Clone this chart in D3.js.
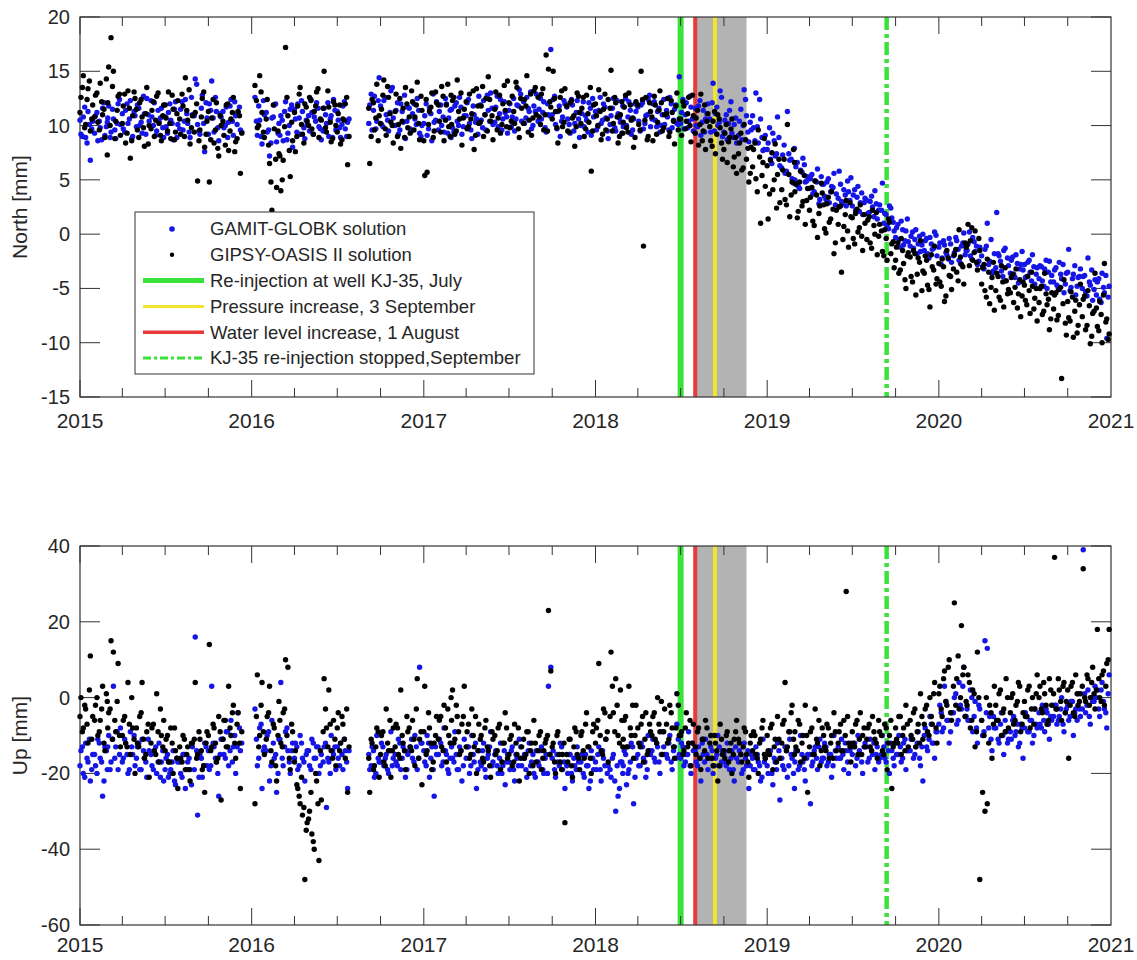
<!DOCTYPE html>
<meta charset="utf-8">
<script src="https://d3js.org/d3.v7.min.js"></script>
<style>
  body { margin: 0; background: #fff; }
  text { font-family: "Liberation Sans", Arial, sans-serif; fill: #262626; }
</style>
<div id="chart"></div>

<script>
// readings per month, Jan 2015 .. Dec 2020
// set A on days 3, 8, 13, 18, 23, 28 ; set B on days 1, 6, 11, 16, 21, 26
var northGamit = [
  // 2015
  [9.2, 10.8, 8.9, 11.3, 6.8, 10.4], [10.9, 8.6, 9.8, 11.6, 9.1, 10.3], [11.8, 9.4, 10.6, 8.8, 12.0, 10.1],
  [9.7, 11.4, 10.2, 12.3, 9.0, 10.9], [11.9, 10.0, 9.3, 11.1, 12.5, 10.4], [10.8, 12.1, 9.5, 10.3, 11.6, 8.9],
  [9.9, 11.2, 10.5, 8.7, 12.2, 10.1], [11.5, 9.6, 12.4, 10.2, 8.9, 11.0], [14.3, 10.1, 9.2, 12.8, 7.6, 10.7],
  [12.0, 14.1, 9.4, 11.3, 8.6, 10.8], [9.8, 11.7, 10.3, 12.4, 9.1, 10.9], [11.2, 9.6, null, null, null, null],
  // 2016
  [null, 12.6, 9.1, 10.5, 8.3, 11.0], [9.4, 7.2, 10.7, 11.9, 8.5, 10.2], [10.9, 8.6, 12.2, 9.3, 11.5, 8.0],
  [10.6, 12.0, 9.2, 11.3, 8.8, 10.1], [9.5, 11.2, 10.8, 12.1, 9.9, 8.7], [11.6, 10.2, 9.0, 10.9, 12.4, 9.6],
  [10.5, 8.9, 11.8, 9.7, 10.3, null], [null, null, null, null, null, null], [null, 11.9, 9.6, 12.7, 10.4, 14.4],
  [10.1, 12.3, 11.0, 9.5, 13.2, 10.7], [11.4, 9.2, 12.0, 10.3, 8.8, 11.7], [9.7, 11.1, 10.6, 12.5, 9.3, 10.0],
  // 2017
  [10.9, 9.1, 11.6, 8.6, 10.3, 12.2], [11.3, 10.0, 9.4, 12.0, 10.7, 8.9], [9.8, 11.8, 10.4, 12.6, 9.2, 10.9],
  [12.1, 10.2, 8.8, 11.0, 10.6, 12.7], [10.5, 12.3, 9.6, 11.4, 13.0, 10.1], [11.7, 9.9, 12.4, 10.6, 11.2, 9.3],
  [12.0, 10.8, 9.5, 11.9, 13.3, 10.4], [10.2, 12.6, 11.3, 9.7, 11.8, 12.9], [11.5, 10.6, 12.2, 9.4, 11.0, 17.0],
  [12.4, 10.1, 11.3, 9.0, 10.8, 12.0], [10.6, 9.3, 11.9, 10.2, 12.3, 8.9], [11.1, 9.9, 10.5, 12.1, 9.1, 10.8],
  // 2018
  [9.6, 11.4, 10.2, 12.0, 10.7, 8.8], [10.9, 12.5, 9.5, 11.1, 10.3, 11.8], [11.7, 10.0, 12.2, 9.2, 10.6, 11.3],
  [10.4, 11.9, 9.7, 10.9, 12.4, 9.9], [12.0, 10.5, 11.3, 9.4, 11.0, 10.1], [10.8, 12.6, 9.8, 11.5, 10.2, 14.5],
  [11.2, 9.7, 12.1, 10.4, 11.7, 9.5], [10.0, 11.8, 9.1, 11.4, 10.6, 12.0], [9.4, 13.9, 11.1, 10.0, 13.2, 9.0],
  [10.5, 8.7, 11.4, 9.3, 10.1, 8.4], [10.4, 8.7, 13.3, 10.9, 8.5, 9.6], [9.8, 13.0, 8.4, 10.6, 7.7, 9.1],
  // 2019
  [8.4, 6.9, 9.3, 7.2, 10.8, 6.3], [7.3, 5.6, 11.3, 6.8, 5.1, 7.9], [6.2, 4.4, 5.9, 7.0, 4.8, 5.3],
  [5.1, 3.7, 4.9, 6.0, 3.2, 4.6], [3.5, 4.8, 2.9, 4.4, 5.6, 3.7], [5.8, 3.0, 4.1, 2.6, 3.9, 5.2],
  [3.6, 2.2, 4.4, 2.9, 1.8, 3.3], [1.9, 3.0, 2.5, 4.0, 1.4, 2.7], [4.7, 1.9, 0.8, 2.6, 1.5, 0.3],
  [0.6, -0.5, 1.2, -1.0, 0.3, -0.7], [-0.2, -1.3, 0.4, -0.9, -1.6, 0.0], [-0.6, -1.8, -0.3, -1.4, 0.2, -2.0],
  // 2020
  [-0.8, -2.2, -1.0, -1.9, -0.4, -2.6], [-1.7, -0.6, -2.4, -1.1, 0.1, -1.5], [-0.9, -2.0, -0.3, -1.6, -2.8, -1.2],
  [-3.0, -1.4, 1.0, -2.5, -3.6, -1.8], [2.0, -2.0, -3.4, -1.5, -4.3, -2.9], [-2.4, -3.7, -1.9, -4.5, -2.8, -3.3],
  [-4.0, -2.6, -3.5, -1.9, -4.6, -3.1], [-2.9, -4.3, -3.2, -5.0, -2.5, -3.8], [-3.3, -4.7, -2.6, -4.1, -5.4, -3.6],
  [-1.4, -4.9, -3.7, -5.6, -4.0, -3.2], [-3.9, -5.3, -2.2, -4.7, -6.1, -4.2], [-4.4, -6.0, -3.6, -5.4, -9.6, -4.8]
];
var northGamitB = [
  // 2015
  [10.5, 9.0, 11.7, 8.4, 10.1, 9.7], [9.3, 11.2, 10.4, 8.7, 12.1, 9.9], [10.7, 8.9, 11.5, 9.6, 10.2, 12.4],
  [11.1, 9.4, 12.0, 10.6, 8.8, 11.3], [9.9, 11.6, 10.3, 12.7, 9.2, 11.0], [12.3, 10.0, 9.1, 11.4, 10.7, 9.8],
  [10.8, 9.3, 12.0, 10.2, 11.5, 8.9], [9.7, 12.2, 10.4, 11.1, 9.4, 12.6], [10.9, 13.8, 9.5, 11.6, 10.2, 12.1],
  [9.2, 11.4, 10.7, 12.6, 9.8, 11.1], [11.3, 10.0, 8.9, 11.8, 10.4, 12.2], [10.1, 11.7, 9.4, null, null, null],
  // 2016
  [null, null, 10.4, 11.8, 9.0, 12.3], [11.2, 9.6, 8.4, 10.8, 12.0, 9.3], [9.1, 10.5, 11.3, 8.7, 10.0, 11.9],
  [11.5, 9.4, 10.7, 12.3, 9.8, 10.5], [10.9, 12.4, 9.2, 10.4, 11.6, 9.7], [9.5, 11.0, 12.1, 10.6, 8.9, 11.4],
  [11.3, 9.8, 10.1, 12.2, 9.0, 10.6], [null, null, null, null, null, null], [null, 10.2, 12.9, 11.4, 9.7, 12.3],
  [11.8, 9.9, 12.6, 10.5, 11.2, 13.5], [10.0, 12.1, 9.6, 11.3, 12.8, 10.4], [11.6, 9.5, 12.0, 10.1, 11.4, 9.0],
  // 2017
  [10.2, 12.0, 9.7, 11.1, 12.9, 10.5], [9.6, 11.9, 10.8, 12.5, 9.3, 11.4], [11.5, 9.4, 12.1, 10.0, 11.7, 9.9],
  [10.9, 12.4, 9.6, 11.8, 10.3, 9.2], [11.9, 9.8, 11.0, 12.8, 10.4, 11.6], [10.3, 12.7, 11.1, 9.6, 12.2, 10.8],
  [11.4, 9.9, 12.5, 10.6, 11.8, 12.9], [12.2, 10.7, 11.6, 13.1, 10.0, 11.3], [10.4, 12.5, 11.2, 9.8, 12.0, 10.9],
  [11.0, 12.7, 9.7, 11.8, 10.4, 12.3], [11.7, 10.1, 12.4, 9.5, 11.2, 10.6], [10.0, 12.2, 10.9, 9.4, 11.6, 12.5],
  // 2018
  [11.3, 9.9, 12.6, 10.5, 11.7, 9.5], [10.1, 11.6, 9.8, 12.3, 10.7, 9.3], [9.9, 12.5, 10.8, 11.4, 9.6, 12.0],
  [11.7, 9.5, 12.1, 10.2, 11.0, 12.8], [10.6, 12.2, 9.9, 11.6, 10.0, 12.4], [11.4, 9.6, 12.0, 10.5, 11.9, 10.1],
  [10.2, 12.4, 11.0, 9.8, 12.7, 10.6], [11.6, 9.9, 12.3, 10.3, 9.4, 11.1], [10.6, 12.1, 9.5, 11.7, 10.3, 12.6],
  [9.4, 11.0, 10.2, 12.2, 8.9, 10.7], [9.1, 11.5, 10.0, 12.4, 9.4, 10.3], [10.9, 8.6, 9.9, 12.4, 8.9, 7.8],
  // 2019
  [7.8, 9.8, 6.5, 8.6, 7.4, 8.9], [6.1, 8.2, 5.8, 7.4, 6.9, 4.7], [5.0, 6.6, 4.2, 5.7, 6.4, 4.9],
  [4.2, 5.5, 3.9, 4.8, 2.8, 5.3], [4.6, 3.2, 5.1, 3.9, 4.3, 2.7], [3.3, 4.6, 2.8, 3.6, 4.9, 3.1],
  [2.6, 4.1, 3.4, 2.1, 3.8, 2.9], [3.1, 2.0, 3.5, 1.6, 2.8, 2.2], [2.2, 1.0, 1.8, 0.5, 2.4, 1.1],
  [-0.3, 0.9, -1.2, 0.4, -0.6, 1.4], [-1.1, 0.2, -0.5, -1.8, -0.2, -1.0], [-1.5, -0.4, -2.2, -0.9, -1.3, -0.1],
  // 2020
  [-1.2, -2.8, -0.6, -1.7, -2.3, -0.9], [-2.0, -0.3, -1.4, -2.7, -0.8, -1.9], [-1.5, 0.2, -2.3, -0.7, -1.1, -2.5],
  [-2.0, -3.2, -1.1, -2.8, -0.5, -3.4], [-3.1, -1.8, -2.5, -3.9, -1.3, -2.2], [-3.6, -2.1, -4.0, -2.7, -3.2, -1.6],
  [-2.8, -3.9, -2.4, -4.3, -3.0, -3.7], [-4.1, -3.0, -4.8, -2.4, -3.5, -4.4], [-4.4, -3.1, -5.0, -3.7, -2.8, -4.6],
  [-3.5, -5.2, -4.1, -2.9, -4.8, -3.9], [-5.0, -3.8, -5.7, -4.4, -3.3, -5.1], [-5.6, -4.1, -6.3, -4.9, -3.8, -5.8]
];

var northGipsy = [
  // 2015
  [12.6, 14.6, 10.1, 13.4, 9.5, 11.9], [12.8, 10.3, 13.9, 11.0, 8.9, 7.3], [15.4, 18.1, 15.0, 10.4, 12.7, 9.1],
  [11.8, 8.4, 13.2, 7.0, 10.9, 12.5], [9.6, 12.1, 10.8, 8.1, 13.5, 10.0], [11.4, 9.0, 12.7, 10.2, 8.6, 11.9],
  [10.7, 13.1, 8.8, 11.5, 9.4, 12.3], [9.2, 11.8, 14.4, 10.5, 8.3, 10.9], [11.2, 4.9, 9.6, 12.5, 8.0, 10.4],
  [4.8, 10.7, 8.4, 12.1, 7.2, 10.0], [9.1, 11.9, 7.7, 10.6, 12.6, 8.5], [11.3, 5.6, null, null, null, null],
  // 2016
  [null, 13.7, 9.8, 14.6, 11.2, 8.9], [12.4, 6.5, 2.2, 9.7, 4.3, 7.4], [4.0, 6.8, 17.2, 10.9, 5.3, 8.6],
  [7.6, 11.8, 13.5, 9.2, 12.0, 10.4], [12.6, 9.7, 11.3, 13.1, 8.9, 10.5], [15.0, 9.4, 11.7, 8.5, 12.2, 10.0],
  [11.1, 8.3, 10.6, 12.0, 6.4, null], [null, null, null, null, null, null], [null, 6.5, 12.4, 9.6, 13.8, 10.9],
  [11.5, 14.2, 9.1, 12.6, 10.3, 8.4], [12.9, 10.1, 7.9, 11.6, 13.5, 9.8], [9.3, 12.2, 10.8, 14.0, 8.7, 11.4],
  // 2017
  [5.4, 5.7, 11.3, 13.0, 9.5, 12.1], [10.4, 13.6, 8.6, 11.9, 9.9, 12.8], [12.3, 9.2, 14.2, 10.6, 8.2, 11.5],
  [9.7, 12.9, 11.1, 7.8, 13.4, 10.2], [11.8, 9.0, 12.5, 14.5, 10.4, 8.7], [13.1, 10.7, 9.3, 12.0, 11.4, 14.1],
  [9.8, 12.7, 10.2, 13.5, 8.9, 11.6], [12.4, 14.6, 10.5, 9.1, 13.2, 11.0], [10.8, 12.9, 9.6, 16.5, 15.2, 11.7],
  [15.0, 11.3, 8.4, 12.6, 9.9, 13.4], [9.5, 12.1, 10.7, 8.1, 13.0, 11.2], [11.6, 9.0, 12.8, 10.3, 5.8, 11.9],
  // 2018
  [10.9, 13.3, 8.7, 11.5, 9.6, 12.4], [15.1, 10.2, 12.1, 8.4, 11.0, 9.3], [11.7, 9.8, 13.0, 10.5, 8.0, 12.2],
  [10.1, 15.0, -1.1, 12.6, 9.0, 11.3], [8.6, 11.9, 10.3, 13.2, 9.5, 11.0], [12.5, 9.4, 11.2, 8.3, 13.0, 10.6],
  [9.1, 11.8, 10.4, 12.6, 8.5, 10.9], [10.7, 8.2, 12.9, 9.5, 7.8, 11.1], [8.6, 10.4, 7.4, 11.0, 9.8, 6.9],
  [9.3, 6.6, 8.9, 10.6, 7.1, 5.6], [8.4, 5.9, 10.1, 6.9, 4.8, 8.0], [7.8, 5.1, 9.6, 1.0, 6.6, 4.4],
  // 2019
  [1.4, 6.8, 4.1, 8.3, 5.5, 2.9], [5.9, 3.2, 10.1, 1.6, 4.8, 6.6], [4.6, 2.1, 5.8, 3.0, 0.9, 4.2],
  [3.4, 1.2, 4.9, -0.3, 2.6, 3.8], [0.5, 2.8, 1.1, 3.9, -1.8, 2.2], [2.5, -3.5, 0.7, 3.1, -1.2, 1.6],
  [-0.4, 1.9, 0.2, 2.7, -1.5, 1.0], [1.3, -0.8, 2.2, 0.0, -1.9, 0.9], [-1.6, 0.4, -2.4, 1.1, -0.9, -3.1],
  [-1.2, -3.6, -0.4, -2.7, -5.0, -1.7], [-3.9, -1.5, -5.6, -2.2, -0.6, -3.4], [-2.0, -4.7, -6.7, -3.0, -1.1, -4.1],
  // 2020
  [-4.4, -2.3, -6.2, -1.5, -3.8, -5.1], [-1.9, -3.5, 0.4, -2.8, -4.6, -1.2], [0.9, -0.6, -2.4, 0.3, -3.3, -1.5],
  [-3.1, -5.2, -2.3, -6.4, -4.0, -7.0], [-3.6, -5.8, -2.9, -6.7, -4.3, -5.1], [-4.0, -6.3, -3.2, -5.5, -7.6, -4.4],
  [-6.1, -3.9, -7.3, -4.8, -5.9, -8.0], [-5.0, -7.4, -3.6, -6.5, -8.8, -5.4], [-5.6, -7.9, -5.1, -13.3, -4.2, -9.3],
  [-7.7, -5.3, -9.5, -6.1, -8.4, -4.6], [-6.0, -8.8, -5.2, -10.1, -7.3, -3.6], [-8.5, -6.2, -10.0, -2.7, -7.8, -9.2]
];
var northGipsyB = [
  // 2015
  [11.2, 13.5, 9.8, 12.4, 14.1, 10.6], [10.8, 13.0, 9.6, 12.2, 11.5, 14.3], [12.1, 10.0, 13.6, 8.8, 11.4, 12.9],
  [10.2, 12.9, 9.3, 11.6, 8.6, 13.1], [11.5, 8.9, 12.4, 9.8, 11.1, 8.3], [9.7, 12.2, 10.5, 13.0, 9.1, 10.9],
  [11.9, 9.5, 10.2, 12.8, 8.7, 11.1], [10.6, 12.9, 9.0, 11.4, 13.3, 9.8], [9.4, 12.0, 8.6, 10.8, 13.1, 9.2],
  [11.3, 8.7, 12.4, 9.6, 7.9, 10.9], [10.4, 8.2, 12.0, 9.5, 11.2, 7.6], [8.8, 10.9, 9.3, null, null, null],
  // 2016
  [null, null, 12.3, 10.0, 13.1, 9.4], [10.6, 8.2, 4.8, 11.9, 6.9, 9.5], [7.2, 5.0, 9.9, 12.6, 7.7, 10.3],
  [11.2, 9.0, 12.9, 10.1, 8.4, 11.7], [10.0, 12.3, 9.2, 11.8, 13.4, 10.6], [11.6, 9.8, 13.2, 10.3, 8.8, 11.9],
  [9.4, 11.9, 8.7, 10.5, 12.6, 9.0], [null, null, null, null, null, null], [null, 11.6, 9.0, 12.1, 10.7, 8.6],
  [10.2, 12.8, 9.7, 13.6, 11.1, 10.0], [11.3, 9.0, 12.5, 10.4, 8.9, 12.0], [10.8, 13.2, 9.6, 11.9, 10.2, 12.7],
  // 2017
  [8.6, 12.4, 10.1, 11.7, 8.9, 13.1], [11.9, 9.4, 12.7, 10.5, 13.8, 9.0], [10.1, 12.6, 9.5, 11.3, 13.0, 10.7],
  [12.2, 9.9, 10.6, 13.2, 9.1, 11.8], [10.3, 13.6, 11.0, 9.5, 12.4, 10.9], [11.5, 9.6, 12.8, 10.1, 13.7, 9.9],
  [12.1, 10.4, 11.3, 14.0, 9.7, 12.5], [10.2, 11.8, 9.4, 12.9, 10.7, 13.5], [12.6, 10.1, 13.4, 11.0, 9.5, 12.2],
  [10.6, 12.5, 9.8, 11.4, 13.2, 10.3], [11.8, 9.4, 12.3, 10.9, 9.9, 12.7], [10.2, 12.6, 9.7, 11.1, 13.5, 9.5],
  // 2018
  [12.0, 10.0, 11.3, 9.2, 12.9, 10.6], [11.6, 9.5, 12.6, 10.8, 9.0, 12.2], [10.3, 12.8, 9.4, 11.9, 10.7, 8.9],
  [11.9, 9.6, 12.4, 10.5, 8.7, 12.1], [10.8, 12.7, 9.2, 11.4, 12.1, 9.8], [11.1, 9.0, 12.3, 10.4, 11.8, 9.6],
  [10.6, 12.2, 9.7, 11.1, 10.0, 12.8], [9.3, 11.4, 10.1, 8.6, 11.9, 10.4], [9.9, 8.1, 11.3, 9.2, 10.6, 8.4],
  [7.8, 10.1, 8.5, 9.7, 6.2, 8.9], [7.4, 9.3, 6.1, 8.7, 7.9, 5.6], [6.2, 8.4, 3.9, 7.1, 5.4, 8.8],
  // 2019
  [6.3, 3.7, 7.5, 5.0, 2.4, 6.9], [4.1, 6.9, 2.7, 5.5, 3.6, 7.8], [3.9, 1.5, 4.8, 2.6, 5.4, 3.1],
  [2.2, 4.3, 0.8, 3.6, 1.9, 4.7], [2.7, 0.1, 3.4, 1.4, 2.3, -0.8], [0.9, 2.6, -0.5, 1.8, 0.3, 2.9],
  [1.5, -0.9, 2.3, 0.6, -0.2, 1.8], [-0.5, 1.6, -1.3, 0.8, 2.0, -0.2], [0.3, -2.0, -0.4, 1.4, -1.8, -0.7],
  [-2.4, -0.8, -3.3, -1.5, -4.2, -2.0], [-2.1, -4.4, -1.8, -3.7, -2.6, -5.2], [-3.6, -2.4, -5.1, -1.9, -3.3, -4.6],
  // 2020
  [-2.7, -4.8, -3.0, -5.7, -2.2, -3.9], [-3.2, -1.4, -4.3, -2.1, -3.0, -0.8], [-1.0, -2.9, 0.6, -1.7, -2.6, -0.4],
  [-4.6, -2.8, -5.8, -3.5, -4.9, -2.6], [-5.2, -3.9, -6.1, -4.4, -3.1, -5.5], [-5.4, -3.7, -4.9, -6.8, -4.2, -5.7],
  [-4.7, -6.5, -5.2, -3.5, -6.9, -5.0], [-6.3, -4.8, -7.1, -5.5, -6.0, -7.8], [-6.9, -5.4, -7.5, -4.9, -6.4, -8.2],
  [-6.2, -8.0, -5.8, -7.1, -9.1, -6.5], [-7.6, -5.7, -8.4, -6.6, -9.4, -7.1], [-6.8, -8.9, -7.4, -5.6, -8.1, -9.7]
];

var upGamit = [
  // 2015
  [-14, -20, -12, -17, -22, -15], [-18, -11, -16, -26, -13, -19], [-10, -17, 3, -13, -19, -8],
  [-16, -12, -20, -9, -15, -18], [-13, -19, -11, -16, -21, -14], [-18, -14, -20, -12, -17, -22],
  [-16, -21, -19, -14, -23, -17], [-20, -15, -24, -17, -19, -13], [16, -31, -15, -21, -12, -18],
  [-19, 3, -13, -17, -26, -11], [-15, -9, -18, -6, -13, -20], [-4, -14, null, null, null, null],
  // 2016
  [null, -3, -18, -8, -24, -13], [-10, -22, -6, -16, -25, -11], [4, -18, -9, -14, -20, -12],
  [-12, -19, -10, -16, -22, -14], [-18, -11, -16, -13, -20, -15], [-13, -29, -17, -10, -15, -19],
  [-16, -12, -19, -14, -24, null], [null, null, null, null, null, null], [null, -19, -13, -21, -10, -17],
  [-12, -18, -15, -20, -9, -16], [-17, -11, -19, -13, -21, -15], [-13, -16, -10, -19, 8, -12],
  // 2017
  [-17, -10, -21, -13, -26, -15], [-11, -18, -8, -15, -20, -12], [-16, -9, -19, -13, -22, -11],
  [-13, -20, -10, -17, -24, -14], [-18, -12, -21, -15, -9, -17], [-14, -20, -12, -18, -23, -15],
  [-19, -13, -22, -16, -11, -18], [-15, -21, -12, -17, -20, -14], [-18, -13, -20, -15, 3, 8],
  [-14, -21, -17, -12, -19, -24], [-20, -15, -22, -18, -13, -19], [-15, -21, -18, -24, -14, -19],
  // 2018
  [-19, -13, -22, -16, -11, -18], [-21, -15, -30, -26, -17, -20], [-14, -23, -19, -12, -28, -16],
  [-18, -12, -16, -21, -10, -15], [-11, -17, -13, -20, -9, -15], [-16, -10, -19, -13, -7, -15],
  [-12, -18, -15, -9, -20, -14], [-17, -13, -22, -15, -11, -19], [-13, -20, -16, -10, -18, -14],
  [-17, -12, -19, -14, -22, -16], [-14, -20, -12, -18, -24, -15], [-19, -13, -17, -22, -11, -16],
  // 2019
  [-20, -14, -23, -17, -12, -27], [-18, -13, -21, -11, -16, -24], [-14, -19, -10, -17, -22, -15],
  [-28, -17, -13, -19, -11, -16], [-12, -18, -15, -21, -10, -16], [-16, -11, -19, -14, -20, -12],
  [-13, -18, -10, -15, -20, -12], [-17, -11, -15, -19, -13, -16], [-10, -16, -12, -20, -14, -18],
  [-15, -10, -17, -12, -19, -14], [-11, -16, -13, -9, -18, -22], [-8, -14, -5, -12, -16, -9],
  // 2020
  [-2, -9, 3, -6, -12, -4], [0, -7, 4, -3, 8, -5], [-6, 2, -9, -1, -12, -3],
  [-10, 15, 13, -5, -14, -8], [-6, -12, -4, -15, -9, -11], [-11, -5, -9, -13, -7, -16],
  [-4, -9, -6, -12, -3, -8], [-7, -2, -9, -4, -11, -6], [-2, -7, -5, 0, -9, -3],
  [-6, -1, -10, -3, 1, -5], [39, -4, 2, -7, -1, 3], [2, -5, 4, -3, -8, 6]
];
var upGamitB = [
  // 2015
  [-18, -13, -21, -16, -11, -19], [-15, -20, -12, -17, -22, -14], [-13, -19, -11, -16, -9, -15],
  [-17, -11, -15, -19, -13, -10], [-16, -12, -19, -14, -17, -11], [-15, -19, -13, -17, -21, -14],
  [-19, -15, -20, -17, -22, -16], [-17, -21, -15, -19, -16, -23], [-19, -14, -21, -16, -18, -13],
  [-14, -18, -12, -16, -20, -15], [-11, -16, -9, -14, -17, -10], [-13, -8, -12, null, null, null],
  // 2016
  [null, null, -11, -16, -7, -14], [-14, -9, -18, -12, -15, -20], [-11, -16, -13, -8, -17, -14],
  [-16, -13, -18, -12, -17, -15], [-14, -19, -12, -16, -13, -18], [-17, -12, -16, -20, -14, -13],
  [-13, -18, -15, -11, -17, -14], [null, null, null, null, null, null], [null, -15, -18, -14, -20, -16],
  [-17, -13, -16, -19, -14, -18], [-15, -18, -12, -16, -14, -19], [-14, -11, -17, -13, -16, -12],
  // 2017
  [-14, -18, -12, -16, -19, -13], [-15, -12, -17, -14, -19, -16], [-13, -17, -15, -19, -14, -18],
  [-16, -13, -18, -15, -12, -19], [-17, -14, -19, -16, -13, -18], [-15, -18, -16, -20, -14, -17],
  [-17, -14, -19, -15, -18, -13], [-16, -19, -14, -18, -15, -21], [-17, -14, -19, -16, -20, -15],
  [-16, -19, -15, -18, -13, -17], [-18, -15, -20, -16, -19, -17], [-17, -20, -15, -18, -22, -16],
  // 2018
  [-17, -15, -19, -14, -18, -20], [-19, -16, -22, -18, -24, -17], [-18, -15, -20, -17, -13, -21],
  [-15, -18, -13, -17, -19, -14], [-14, -16, -12, -17, -15, -13], [-15, -12, -17, -14, -16, -11],
  [-16, -13, -17, -15, -18, -12], [-14, -18, -16, -12, -17, -15], [-16, -14, -18, -15, -13, -17],
  [-15, -18, -14, -16, -19, -13], [-17, -15, -19, -16, -14, -18], [-16, -19, -15, -18, -21, -17],
  // 2019
  [-18, -15, -20, -16, -19, -14], [-16, -19, -14, -18, -15, -20], [-17, -14, -18, -15, -19, -16],
  [-15, -18, -14, -16, -13, -17], [-16, -13, -17, -15, -18, -14], [-13, -16, -15, -12, -17, -14],
  [-15, -12, -16, -14, -17, -13], [-13, -16, -14, -12, -15, -17], [-15, -13, -17, -14, -12, -16],
  [-12, -15, -13, -16, -11, -14], [-14, -11, -15, -12, -16, -13], [-10, -13, -11, -7, -12, -9],
  // 2020
  [-7, -4, -8, -1, -6, -9], [-4, 1, -6, -2, 3, -5], [-3, -6, 0, -5, -8, -2],
  [-6, -9, -4, -8, -11, -5], [-8, -11, -7, -10, -6, -12], [-9, -6, -10, -7, -12, -8],
  [-8, -5, -9, -6, -10, -7], [-4, -8, -6, -3, -7, -5], [-5, -2, -6, -3, -7, -4],
  [-2, -5, -1, -4, -6, -3], [-3, 1, -2, -5, 0, -1], [0, -3, 2, -1, -4, 1]
];

var upGipsy = [
  // 2015
  [0, -8, -3, -12, 11, -5], [-2, -10, -6, 3, -14, -1], [-4, 15, 12, -9, 9, -13],
  [-6, -12, 4, -15, -8, -20], [-12, -5, 4, -16, -9, -21], [-8, -14, 1, -17, -10, -6],
  [-11, -17, -8, -20, -14, -24], [-16, -10, -19, -13, -22, -12], [4, -15, -11, -19, -25, -9],
  [14, -13, -8, -17, -5, -27], [-6, -13, 3, -10, -2, -16], [-4, -24, null, null, null, null],
  // 2016
  [null, -28, 6, -10, 4, -15], [-5, 3, -17, -8, -22, -1], [-12, -4, 10, 8, -19, -9],
  [-14, -24, -28, -31, -48, -33], [-30, -36, -40, -22, -43, -27], [5, -8, 2, -14, -6, -18],
  [-4, -12, -7, -16, -25, null], [null, null, null, null, null, null], [null, -25, -12, -18, -8, -21],
  [-10, -17, -3, -14, -21, -8], [-7, -15, 2, -12, -19, -9], [-13, -6, -18, 5, -11, -23],
  // 2017
  [3, -14, -8, -19, -12, -5], [-6, -13, -2, -17, -10, 0], [2, -11, -5, -15, -7, 3],
  [-9, -16, -3, -13, -20, -7], [-10, -17, -6, -14, -21, -11], [-15, -8, -19, -12, -4, -16],
  [-11, -18, -7, -15, -22, -13], [-16, -9, -20, -12, -6, -17], [-10, -19, -14, -11, 23, 7],
  [-12, -20, -9, -17, -15, -33], [-17, -11, -21, -8, -15, -19], [-9, -16, -4, -13, -20, -7],
  // 2018
  [-8, 9, -14, -3, -11, -17], [12, -4, 5, -10, 2, -13], [-6, -13, 3, -10, -16, -2],
  [-12, -7, -17, -4, -14, -9], [-5, -11, 0, -9, -15, -3], [-12, -2, -8, -16, 1, -10],
  [-9, -14, -4, -12, -18, -7], [-15, -8, -19, -11, -6, -16], [-10, -18, -12, -22, -7, -15],
  [-16, -9, -14, -20, -11, -6], [-12, -17, -8, -15, -21, -10], [-9, -15, -20, -11, -6, -16],
  // 2019
  [-14, -8, -19, -11, -5, -16], [-7, 4, -13, -9, -2, -15], [-13, -6, -17, -10, -2, -25],
  [-9, -15, -3, -12, -18, -8], [-13, -7, -16, -10, -4, -14], [-9, -14, -6, 28, -12, -17],
  [-12, -7, -15, -4, -10, -13], [-8, -13, -5, -11, -16, -9], [-14, -7, -19, -10, -24, -12],
  [-11, -5, -15, -8, -2, -13], [-10, -4, -13, -7, 1, -11], [-3, -9, 0, -7, 4, -12],
  // 2020
  [3, -5, 7, -2, 10, -6], [25, 5, -3, 19, 8, -1], [6, -8, 2, -13, 12, -48],
  [-25, -30, -28, -2, -16, 3], [-6, 1, -10, -3, 5, -8], [0, -7, -2, 4, -9, -4],
  [-5, 2, -8, 0, -3, 6], [3, -4, 1, -7, 5, -2], [37, -3, 2, -6, 4, -1],
  [-16, 3, -4, 6, -2, 1], [34, -1, 5, 0, 8, -3], [18, 0, 6, -2, 9, 18]
];
var upGipsyB = [
  // 2015
  [-5, -9, -2, -7, 2, -11], [-6, 0, -9, -3, -12, 1], [-8, -3, -11, -6, -1, -10],
  [-10, -5, -13, -7, 0, -11], [-8, -13, -4, -11, -15, -7], [-12, -7, -15, -9, -3, -13],
  [-14, -10, -17, -12, -8, -16], [-13, -17, -11, -15, -19, -12], [-11, -16, -9, -14, -18, -12],
  [-10, -14, -7, -12, -16, -9], [-11, -6, -13, -8, -4, -12], [-7, -12, -9, null, null, null],
  // 2016
  [null, null, -5, -13, -2, -9], [-11, -4, -14, -7, -18, -10], [-6, -13, -3, -10, -16, -7],
  [-17, -23, -26, -21, -29, -35], [-32, -25, -38, -20, -28, -14], [-9, -3, -13, -7, -16, -11],
  [-8, -14, -5, -11, -3, -13], [null, null, null, null, null, null], [null, -16, -11, -19, -13, -9],
  [-15, -9, -18, -12, -6, -14], [-13, -8, -16, -10, -14, -5], [-8, -14, -11, -3, -16, -9],
  // 2017
  [-9, -15, -4, -12, -17, -10], [-11, -5, -14, -8, -3, -12], [-6, -12, -2, -9, -14, -5],
  [-13, -7, -15, -10, -5, -14], [-11, -16, -8, -13, -18, -9], [-10, -14, -7, -17, -12, -8],
  [-15, -10, -17, -12, -8, -16], [-11, -15, -9, -14, -18, -12], [-14, -9, -16, -12, -10, -15],
  [-13, -17, -10, -15, -19, -12], [-15, -11, -18, -13, -9, -16], [-10, -14, -7, -13, -16, -9],
  // 2018
  [-12, -6, -10, -15, -4, -9], [-5, 3, -9, -2, -12, -6], [-11, -5, -13, -8, -2, -10],
  [-8, -13, -5, -11, -15, -7], [-10, -4, -12, -7, -1, -9], [-7, -11, -4, -13, -8, -2],
  [-10, -15, -8, -13, -6, -12], [-13, -9, -16, -11, -14, -8], [-12, -16, -10, -14, -18, -11],
  [-14, -10, -17, -12, -15, -9], [-11, -15, -13, -9, -17, -12], [-14, -10, -16, -12, -8, -15],
  // 2019
  [-10, -15, -7, -13, -17, -11], [-12, -6, -14, -9, -4, -11], [-9, -14, -7, -12, -16, -10],
  [-13, -8, -15, -11, -6, -14], [-10, -14, -8, -12, -16, -9], [-12, -7, -14, -10, -5, -13],
  [-9, -13, -6, -11, -15, -8], [-11, -7, -14, -9, -12, -6], [-10, -15, -8, -12, -6, -13],
  [-8, -12, -5, -10, -14, -7], [-6, -11, -3, -9, -12, -5], [-7, -2, -10, -5, 1, -8],
  // 2020
  [1, -3, 5, -1, 8, -4], [3, -2, 11, 0, 6, -5], [-2, 4, -6, 1, -9, 0],
  [-6, -10, 0, -12, -4, -7], [-2, -6, 2, -4, -9, 0], [-4, 1, -6, -1, 3, -7],
  [-1, -5, 3, -3, -7, 1], [0, -3, 4, -2, -6, 2], [1, -3, 5, -1, 3, -4],
  [2, -2, 4, -5, 1, -1], [3, 0, 6, -2, 4, 1], [2, 5, -1, 7, 3, 10]
];

var yearLabels = [2015, 2016, 2017, 2018, 2019, 2020, 2021];
var northTicks = [-15, -10, -5, 0, 5, 10, 15, 20];
var upTicks = [-60, -40, -20, 0, 20, 40];

// event markers (dates as placed in the figure)
var reinjectionStart = "2018-07-01";
var waterLevelRise = "2018-08-01";
var pressureRise = "2018-09-12";
var greyPeriod = ["2018-08-02", "2018-11-18"];
var reinjectionStop = "2019-09-12";

var blue = "#1515e6", green = "#3ae23a", red = "#e8393b", yellow = "#f3e52c";

var legendItems = [
  {text: "GAMIT-GLOBK solution", kind: "dot", color: blue, r: 2.8},
  {text: "GIPSY-OASIS II solution", kind: "dot", color: "#000", r: 2.2},
  {text: "Re-injection at well KJ-35, July", kind: "line", color: green, w: 5},
  {text: "Pressure increase, 3 September", kind: "line", color: yellow, w: 3},
  {text: "Water level increase, 1 August", kind: "line", color: red, w: 3.5},
  {text: "KJ-35 re-injection stopped,September", kind: "dash", color: green, w: 3}
];

var width = 1137, height = 960;
var x0 = 80, x1 = 1111;
var parse = d3.timeParse("%Y-%m-%d");

var svg = d3.select("#chart").append("svg")
  .attr("width", width)
  .attr("height", height);

var x = d3.scaleTime()
  .domain([new Date(2015, 0, 1), new Date(2021, 0, 1)])
  .range([x0, x1]);

function toPoints(months, firstDay) {
  var pts = [];
  months.forEach(function(vals, m) {
    vals.forEach(function(v, i) {
      if (v !== null) pts.push({date: new Date(2015, m, firstDay + 5 * i), value: v});
    });
  });
  return pts;
}

var panels = [
  {top: 17, bottom: 397, ticks: northTicks, label: "North [mm]",
   blue: toPoints(northGamit, 3).concat(toPoints(northGamitB, 1)),
   black: toPoints(northGipsy, 3).concat(toPoints(northGipsyB, 1)),
   legend: true, xLabelY: 428},
  {top: 546, bottom: 925, ticks: upTicks, label: "Up [mm]",
   blue: toPoints(upGamit, 3).concat(toPoints(upGamitB, 1)),
   black: toPoints(upGipsy, 3).concat(toPoints(upGipsyB, 1)),
   legend: false, xLabelY: 952}
];

panels.forEach(function(p) {
  var y = d3.scaleLinear()
    .domain(d3.extent(p.ticks))
    .range([p.bottom, p.top]);
  var g = svg.append("g");

  // grey period
  g.append("rect")
    .attr("x", x(parse(greyPeriod[0])))
    .attr("y", p.top)
    .attr("width", x(parse(greyPeriod[1])) - x(parse(greyPeriod[0])))
    .attr("height", p.bottom - p.top)
    .style("fill", "#b3b3b3");

  // event lines
  function vline(date, color, w, dash) {
    g.append("line")
      .attr("x1", x(parse(date))).attr("x2", x(parse(date)))
      .attr("y1", p.top).attr("y2", p.bottom)
      .style("stroke", color)
      .style("stroke-width", w)
      .style("stroke-dasharray", dash || null);
  }
  vline(reinjectionStart, green, 6);
  vline(waterLevelRise, red, 4);
  vline(pressureRise, yellow, 4);
  vline(reinjectionStop, green, 4.5, "13,4,4,4");

  // ticks (drawn under the data)
  var quarters = d3.timeMonth.every(3).range(x.domain()[0], x.domain()[1]);
  quarters.forEach(function(d) {
    var len = d.getMonth() === 0 ? 17 : 9;
    g.append("line").attr("x1", x(d)).attr("x2", x(d))
      .attr("y1", p.bottom).attr("y2", p.bottom - len)
      .style("stroke", "#333");
    g.append("line").attr("x1", x(d)).attr("x2", x(d))
      .attr("y1", p.top).attr("y2", p.top + len)
      .style("stroke", "#333");
  });
  p.ticks.forEach(function(t) {
    g.append("line").attr("x1", x0).attr("x2", x0 + 20)
      .attr("y1", y(t)).attr("y2", y(t))
      .style("stroke", "#333");
    g.append("line").attr("x1", x1 - 20).attr("x2", x1)
      .attr("y1", y(t)).attr("y2", y(t))
      .style("stroke", "#333");
    g.append("text")
      .attr("x", 70).attr("y", y(t))
      .attr("dy", "0.35em")
      .attr("text-anchor", "end")
      .style("font-size", "20px")
      .text(t);
  });

  g.append("rect")
    .attr("x", x0).attr("y", p.top)
    .attr("width", x1 - x0).attr("height", p.bottom - p.top)
    .style("fill", "none").style("stroke", "#333").style("stroke-width", 1.2);

  g.selectAll(".yr")
    .data(yearLabels)
    .enter().append("text")
      .attr("x", function(d) { return x(new Date(d, 0, 1)); })
      .attr("y", p.xLabelY)
      .attr("text-anchor", "middle")
      .style("font-size", "21px")
      .text(function(d) { return d; });

  g.append("text")
    .attr("transform", "translate(27," + (p.top + p.bottom) / 2 + ") rotate(-90)")
    .attr("text-anchor", "middle")
    .style("font-size", "21px")
    .text(p.label);

  // data: GAMIT first, GIPSY on top
  g.append("g").selectAll("circle")
    .data(p.blue)
    .enter().append("circle")
      .attr("cx", function(d) { return x(d.date); })
      .attr("cy", function(d) { return y(d.value); })
      .attr("r", 2.7)
      .style("fill", blue);
  g.append("g").selectAll("circle")
    .data(p.black)
    .enter().append("circle")
      .attr("cx", function(d) { return x(d.date); })
      .attr("cy", function(d) { return y(d.value); })
      .attr("r", 2.7)
      .style("fill", "#000");

  if (p.legend) {
    var lg = g.append("g");
    lg.append("rect")
      .attr("x", 135).attr("y", 212)
      .attr("width", 399).attr("height", 162)
      .style("fill", "#fff").style("stroke", "#333").style("stroke-width", 1);
    legendItems.forEach(function(it, i) {
      var ly = 229 + i * 25.8;
      if (it.kind === "dot") {
        lg.append("circle").attr("cx", 172).attr("cy", ly).attr("r", it.r).style("fill", it.color);
      } else {
        lg.append("line")
          .attr("x1", 143).attr("x2", 204)
          .attr("y1", ly).attr("y2", ly)
          .style("stroke", it.color)
          .style("stroke-width", it.w)
          .style("stroke-dasharray", it.kind === "dash" ? "8,3,3,3" : null);
      }
      lg.append("text")
        .attr("x", 210).attr("y", ly)
        .attr("dy", "0.35em")
        .style("font-size", "18.5px")
        .text(it.text);
    });
  }
});
</script>
